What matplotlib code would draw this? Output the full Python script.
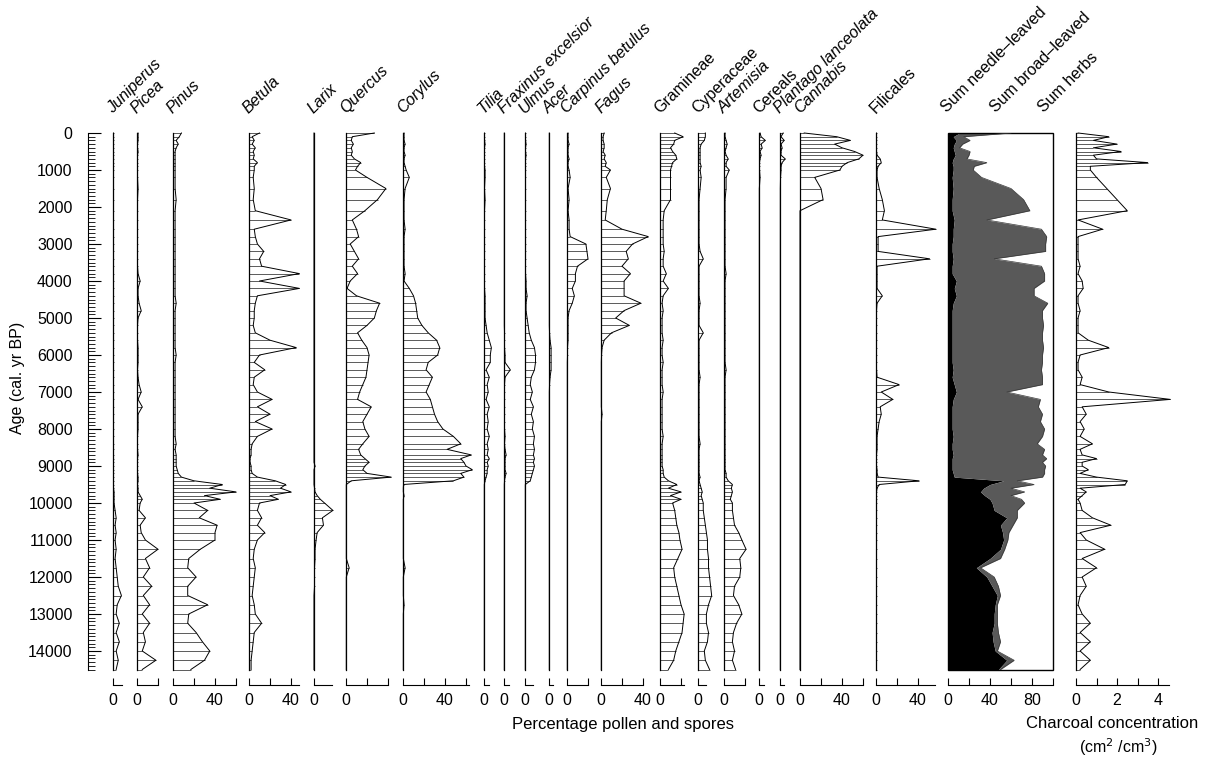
import numpy as np
import matplotlib.pyplot as plt
from matplotlib.ticker import MultipleLocator

plt.rcParams.update({'font.family': ['Liberation Sans', 'DejaVu Sans'], 'font.size': 11.5})

W, H, DPI = 1207, 760, 100
TOP_PX, BOT_PX = 133, 669.5   # pixel rows of age 0 and age 14500
PCT_PX = 1.05                 # pixels per percent
AXIS_OFFSET = 11              # points between data and x axes

# sample ages (cal. yr BP)
ages = [0, 100, 200, 300, 400, 500, 600, 700, 800, 900,
        1000, 1200, 1500, 1800, 2100, 2350, 2600, 2800, 3000, 3200,
        3400, 3600, 3800, 4000, 4200, 4400, 4600, 4800, 5000, 5200,
        5400, 5600, 5800, 6000, 6200, 6400, 6600, 6800, 7000, 7200,
        7400, 7600, 7800, 8000, 8200, 8400, 8550, 8700, 8800, 8900,
        9000, 9100, 9200, 9300, 9400, 9500, 9600, 9700, 9800, 9900,
        10000, 10200, 10400, 10600, 10800, 11000, 11250, 11500, 11750, 12000,
        12250, 12500, 12750, 13000, 13250, 13500, 13750, 14000, 14250, 14500]

# percentages, one row per 10 samples
juniperus = [0.5, 0.5, 0.5, 0.5, 0.5, 0.5, 0.5, 0.5, 0.5, 0.5,
             0.5, 0.5, 0.5, 0.5, 0.5, 0.5, 0.5, 0.5, 0.5, 0.5,
             0.5, 0.5, 0.5, 0.5, 0.5, 0.5, 0.5, 0.5, 0.5, 0.5,
             0.5, 0.5, 0.5, 0.5, 0.5, 0.5, 0.5, 0.5, 0.5, 0.5,
             0.5, 0.5, 0.5, 0.5, 0.5, 0.5, 0.5, 0.5, 0.5, 0.5,
             0.5, 0.5, 0.5, 0.5, 0.5, 0.5, 0.5, 1, 1, 1,
             1, 2, 3, 2, 3, 2, 3, 2, 3, 4,
             5, 8, 4, 3, 6, 3, 6, 3, 5, 3]
picea = [1, 1, 1, 0.5, 0.5, 1, 0.5, 0.5, 0.5, 0.5,
         0.5, 0.5, 1, 0.5, 0.5, 0.5, 0.5, 0.5, 0.5, 0.5,
         0.5, 0.5, 1, 3, 1, 1, 2, 4, 1, 0.5,
         0.5, 0.5, 1, 1, 1, 0.5, 1, 2, 4, 1,
         5, 1, 1, 1, 0.5, 0.5, 0.5, 1, 0.5, 0.5,
         0.5, 0.5, 0.5, 1, 1, 0.5, 1, 1, 3, 5,
         3, 2, 8, 3, 4, 8, 20, 8, 12, 6,
         14, 6, 12, 5, 12, 6, 8, 5, 18, 5]
pinus = [8, 6, 3, 5, 3, 2, 2, 2, 2, 2,
         2, 2, 2, 3, 2, 2, 2, 2, 2, 2,
         2, 2, 2, 2, 2, 2, 3, 2, 2, 2,
         2, 2, 2, 3, 2, 2, 2, 2, 2, 2,
         2, 2, 2, 2, 2, 3, 2, 3, 3, 3,
         3, 4, 5, 8, 20, 47, 35, 60, 30, 45,
         20, 33, 25, 42, 40, 40, 26, 15, 14, 22,
         14, 14, 33, 15, 14, 22, 28, 35, 30, 17]
betula = [10, 3, 5, 3, 6, 4, 5, 4, 8, 5,
          5, 4, 5, 4, 6, 40, 5, 6, 8, 14,
          10, 12, 48, 10, 48, 8, 6, 5, 5, 4,
          6, 20, 45, 10, 5, 15, 5, 4, 8, 22,
          8, 20, 6, 22, 8, 3, 2, 2, 1, 1,
          2, 2, 3, 8, 25, 35, 30, 40, 20, 28,
          10, 8, 12, 8, 15, 8, 5, 4, 6, 5,
          4, 3, 5, 6, 12, 5, 4, 3, 2, 2]
larix = [0, 0, 0, 0, 0, 0, 0, 0, 0, 0,
         0, 0, 0, 0, 0, 0, 0, 0, 0, 0,
         0, 0, 0, 0, 0, 0, 0, 0, 0, 0,
         0, 0, 0, 0, 0, 0, 0, 0, 0, 0,
         0, 0, 0, 0, 0, 0, 0, 0, 0, 0,
         1, 0, 0, 0, 0, 0, 0.5, 1, 3, 6,
         10, 18, 8, 9, 3, 2, 1, 1, 0.5, 0.5,
         0.5, 0, 0, 0, 0, 0, 0, 0, 0, 0]
quercus = [27, 6, 5, 7, 5, 6, 5, 8, 14, 11,
           9, 20, 38, 30, 18, 6, 10, 12, 4, 8,
           12, 6, 11, 4, 1, 10, 32, 29, 27, 20,
           11, 15, 20, 22, 21, 20, 19, 16, 13, 11,
           24, 20, 16, 18, 22, 16, 12, 14, 18, 22,
           18, 16, 20, 43, 5, 0.3, 0.3, 0.3, 0.3, 0.3,
           0.3, 0.3, 0.3, 0.3, 0.3, 0.3, 0.3, 0.3, 3, 0.3,
           0.3, 0.3, 0.3, 0.3, 0.3, 0.3, 0.3, 0.3, 0.3, 0.3]
corylus = [1, 1, 1, 2, 1, 1, 2, 1, 1, 2,
           3, 6, 2, 1, 1, 1, 2, 1, 1, 1,
           1, 1, 2, 1, 6, 10, 12, 13, 14, 18,
           24, 32, 35, 33, 24, 22, 28, 25, 22, 26,
           28, 30, 33, 38, 48, 55, 42, 65, 55, 58,
           60, 66, 55, 58, 48, 0.5, 0.3, 0.3, 1, 0.3,
           0.3, 0.3, 0.3, 0.3, 0.3, 0.3, 0.3, 0.3, 2, 0.3,
           0.3, 0.3, 1, 0.3, 0.3, 0.3, 0.3, 0.3, 0.3, 0.3]
tilia = [0.5, 0.5, 0.5, 1, 0.5, 0.5, 0.5, 0.5, 0.5, 0.5,
         1, 1, 0.5, 1, 0.5, 0.5, 0.5, 0.5, 0.5, 0.5,
         0.5, 0.5, 0.5, 0.5, 0.5, 1, 1, 1, 1, 2,
         3, 5, 7, 6, 6, 2, 5, 3, 4, 2,
         5, 3, 4, 3, 5, 3, 4, 3, 5, 3,
         4, 3, 3, 2, 1, 0.3, 0.3, 0.3, 0.3, 0.3,
         0.3, 0.3, 0.3, 0.3, 0.3, 0.3, 0.3, 0.3, 0.3, 0.3,
         0.3, 0.3, 0.3, 0.3, 0.3, 0.3, 0.3, 0.3, 0.3, 0.3]
fraxinus = [0.3, 0.3, 0.3, 0.3, 0.3, 0.3, 0.3, 0.3, 0.3, 0.3,
            0.3, 0.3, 0.3, 0.3, 0.3, 0.3, 0.3, 0.3, 0.3, 0.3,
            0.3, 0.3, 0.3, 0.3, 0.3, 0.3, 0.3, 0.3, 0.3, 0.3,
            0.5, 0.5, 0.5, 1, 1, 6, 1, 0.5, 0.5, 0.5,
            0.5, 0.5, 0.5, 0.5, 1, 0.5, 1, 2, 1, 1,
            1, 1, 2, 1, 0.5, 0.3, 0.3, 0.3, 0.3, 0.3,
            0.3, 0.3, 0.3, 0.3, 0.3, 0.3, 0.3, 0.3, 0.3, 0.3,
            0.3, 0.3, 0.3, 0.3, 0.3, 0.3, 0.3, 0.3, 0.3, 0.3]
ulmus = [0.5, 0.5, 0.5, 1, 0.5, 0.5, 1, 0.5, 0.5, 0.5,
         0.5, 0.5, 0.5, 0.5, 0.5, 0.5, 0.5, 0.5, 0.5, 0.5,
         0.5, 0.5, 0.5, 1, 1, 2, 1, 1, 2, 3,
         4, 6, 9, 10, 10, 9, 6, 5, 7, 5,
         8, 6, 8, 7, 9, 8, 9, 8, 9, 8,
         9, 8, 7, 6, 5, 0.3, 0.3, 0.3, 0.3, 0.3,
         0.3, 0.3, 0.3, 0.3, 0.3, 0.3, 0.3, 0.3, 0.3, 0.3,
         0.3, 0.3, 0.3, 0.3, 0.3, 0.3, 0.3, 0.3, 0.3, 0.3]
acer = [0.3, 0.3, 0.3, 0.3, 0.3, 0.3, 0.3, 0.3, 0.3, 0.3,
        0.3, 0.3, 0.3, 0.3, 0.3, 0.3, 0.3, 0.3, 0.3, 0.3,
        0.3, 0.3, 0.3, 0.3, 0.3, 0.3, 0.3, 0.3, 0.3, 0.3,
        0.5, 1, 2, 2, 2, 2, 1, 0.5, 0.3, 0.3,
        0.3, 0.3, 0.3, 0.3, 0.3, 0.3, 0.3, 0.3, 0.3, 0.3,
        0.3, 0.3, 0.3, 0.3, 0.3, 0.3, 0.3, 0.3, 0.3, 0.3,
        0.3, 0.3, 0.3, 0.3, 0.3, 0.3, 0.3, 0.3, 0.3, 0.3,
        0.3, 0.3, 0.3, 0.3, 0.3, 0.3, 0.3, 0.3, 0.3, 0.3]
carpinus = [1, 1, 1, 2, 1, 1, 1, 2, 1, 1,
            2, 3, 1, 2, 1, 2, 2, 3, 18, 19,
            20, 10, 8, 8, 5, 7, 5, 2, 1, 1,
            1, 1, 0.5, 0.5, 0.3, 0.3, 0.3, 0.3, 0.3, 0.3,
            0.3, 0.3, 0.3, 0.3, 0.3, 0.3, 0.3, 0.3, 0.3, 0.3,
            0.3, 0.3, 0.3, 0.3, 0.3, 0.3, 0.3, 0.3, 0.3, 0.3,
            0.3, 0.3, 0.3, 0.3, 0.3, 0.3, 0.3, 0.3, 0.3, 0.3,
            0.3, 0.3, 0.3, 0.3, 0.3, 0.3, 0.3, 0.3, 0.3, 0.3]
fagus = [3, 2, 2, 3, 3, 2, 4, 3, 5, 4,
         9, 5, 9, 6, 5, 4, 20, 45, 30, 24,
         26, 20, 28, 22, 22, 22, 38, 22, 14, 27,
         10, 3, 1, 0.5, 0.3, 0.3, 0.3, 0.3, 0.3, 0.3,
         0.3, 1, 0.3, 0.3, 0.3, 0.3, 0.3, 0.3, 0.3, 0.3,
         0.3, 0.3, 0.3, 0.3, 0.3, 0.3, 0.3, 0.3, 0.3, 0.3,
         0.3, 0.3, 0.3, 0.3, 0.3, 0.3, 0.3, 0.3, 0.3, 0.3,
         0.3, 0.3, 0.3, 0.3, 0.3, 0.3, 0.3, 0.3, 0.3, 0.3]
gramineae = [14, 22, 14, 13, 10, 12, 15, 16, 12, 11,
             10, 10, 10, 10, 4, 3, 3, 3, 3, 4,
             3, 3, 6, 3, 8, 3, 2, 3, 2, 2,
             2, 3, 2, 2, 3, 2, 2, 2, 3, 2,
             2, 2, 2, 2, 3, 2, 2, 2, 2, 2,
             2, 3, 3, 4, 8, 16, 8, 20, 10, 20,
             12, 14, 15, 16, 18, 19, 21, 17, 13, 14,
             16, 18, 20, 23, 22, 21, 18, 15, 13, 8]
cyperaceae = [7, 7, 6, 3, 2, 2, 2, 2, 2, 3,
              2, 3, 2, 1, 1, 1, 1, 1, 1, 2,
              5, 1, 1, 1, 1, 1, 2, 1, 1, 1,
              5, 1, 1, 1, 1, 1, 2, 1, 1, 1,
              1, 1, 1, 1, 1, 2, 1, 1, 1, 1,
              1, 1, 1, 2, 1, 2, 3, 4, 3, 4,
              5, 5, 6, 7, 8, 9, 9, 10, 10, 11,
              12, 13, 10, 8, 8, 10, 9, 6, 7, 11]
artemisia = [1, 1, 2, 3, 2, 1, 2, 4, 2, 2,
             5, 2, 2, 1, 1, 1, 1, 1, 1, 1,
             1, 1, 2, 1, 1, 1, 1, 1, 1, 1,
             1, 1, 1, 1, 1, 2, 1, 1, 1, 1,
             1, 1, 1, 1, 1, 1, 1, 1, 1, 1,
             1, 1, 2, 2, 4, 8, 7, 8, 7, 6,
             8, 8, 9, 10, 14, 17, 21, 15, 16, 15,
             10, 9, 14, 17, 12, 9, 8, 10, 8, 11]
cereals = [1, 2, 6, 2, 3, 1, 2, 1, 0.5, 0.5,
           0.5, 1, 0.3, 0.3, 0.3, 0.3, 0.3, 0.3, 0.3, 0.3,
           0.3, 0.3, 0.3, 0.3, 0.3, 0.3, 0.3, 0.3, 0.3, 0.3,
           0.3, 0.3, 0.3, 0.3, 0.3, 0.3, 0.3, 0.3, 0.3, 0.3,
           0.3, 0.3, 0.3, 0.3, 0.3, 0.3, 0.3, 0.3, 0.3, 0.3,
           0.3, 0.3, 0.3, 0.3, 0.3, 0.3, 0.3, 0.3, 0.3, 0.3,
           0.3, 0.3, 0.3, 0.3, 0.3, 0.3, 0.3, 0.3, 0.3, 0.3,
           0.3, 0.3, 0.3, 0.3, 0.3, 0.3, 0.3, 0.3, 0.3, 0.3]
plantago = [3, 1, 4, 1, 2, 1, 1, 5, 2, 1,
            1, 0.5, 0.3, 0.3, 0.3, 0.3, 0.3, 0.3, 0.3, 0.3,
            0.3, 0.3, 0.3, 0.3, 0.3, 0.3, 0.3, 0.3, 0.3, 0.3,
            0.3, 0.3, 0.3, 0.3, 0.3, 0.3, 0.3, 0.3, 0.3, 0.3,
            0.3, 0.3, 0.3, 0.3, 0.3, 0.3, 0.3, 0.3, 0.3, 0.3,
            0.3, 0.3, 0.3, 0.3, 0.3, 0.3, 0.3, 0.3, 0.3, 0.3,
            0.3, 0.3, 0.3, 0.3, 0.3, 0.3, 0.3, 0.3, 0.3, 0.3,
            0.3, 0.3, 0.3, 0.3, 0.3, 0.3, 0.3, 0.3, 0.3, 0.3]
cannabis = [4, 35, 48, 33, 40, 52, 60, 56, 45, 40,
            38, 14, 20, 22, 0, 0, 0, 0, 0, 0,
            0, 0, 0, 0, 0, 0, 0, 0, 0, 0,
            0, 0, 0, 0, 0, 0, 0, 0, 0, 0,
            0, 0, 0, 0, 0, 0, 0, 0, 0, 0,
            0, 0, 0, 0, 0, 0, 0, 0, 0, 0,
            0, 0, 0, 0, 0, 0, 0, 0, 0, 0,
            0, 0, 0, 0, 0, 0, 0, 0, 0, 0]
filicales = [0.5, 0.5, 0.5, 0.5, 0.5, 0.5, 1, 4, 5, 2,
             1, 1, 3, 6, 8, 6, 57, 2, 2, 2,
             51, 1, 1, 1, 1, 6, 1, 0.5, 0.5, 0.5,
             0.5, 0.5, 0.5, 0.5, 0.5, 0.5, 1, 22, 5, 16,
             4, 5, 3, 2, 1, 1, 1, 0.5, 0.5, 0.5,
             0.5, 1, 1, 2, 41, 3, 1, 0.5, 0.5, 0.5,
             0.5, 0.5, 0.5, 0.5, 0.5, 0.5, 0.5, 0.5, 0.5, 0.5,
             0.5, 0.5, 0.5, 0.5, 0.5, 0.5, 0.5, 0.5, 0.5, 0.5]

# summary diagram (percent); herbs fill the rest up to 100
sum_needle = [11, 5, 8, 6, 5, 6, 7, 5, 4, 5,
              5, 4, 5, 4, 4, 6, 5, 5, 4, 4,
              5, 4, 4, 8, 6, 8, 5, 4, 4, 4,
              4, 4, 4, 4, 4, 5, 4, 6, 8, 5,
              4, 4, 4, 4, 5, 4, 4, 5, 4, 4,
              4, 4, 5, 6, 53, 40, 34, 31, 35, 40,
              42, 44, 56, 50, 52, 53, 50, 40, 27, 37,
              42, 47, 45, 44, 44, 42, 43, 45, 56, 48]
sum_broad = [49, 10, 13, 8, 6, 15, 13, 13, 33, 20,
             19, 28, 55, 68, 74, 31, 84, 89, 89, 89,
             39, 85, 88, 84, 76, 74, 90, 86, 86, 87,
             86, 86, 87, 86, 86, 84, 86, 84, 48, 83,
             82, 86, 84, 88, 85, 81, 88, 85, 90, 86,
             89, 88, 87, 84, 13, 42, 26, 42, 25, 30,
             31, 22, 10, 12, 6, 4, 4, 10, 4, 7,
             6, 3, 2, 3, 3, 6, 7, 2, 7, 2]

# charcoal concentration (cm2/cm3)
charcoal = [0.1, 1.6, 0.85, 2.0, 0.85, 2.2, 0.85, 1.0, 3.5, 0.7,
            0.7, 1.0, 1.5, 2.0, 2.5, 0.1, 1.3, 0.1, 0.1, 0.1,
            0.1, 0.2, 0.1, 0.3, 0.35, 0.1, 0.1, 0.2, 0.1, 0.1,
            0.1, 0.6, 1.6, 0.2, 0.1, 0.1, 0.3, 0.2, 1.6, 4.6,
            0.3, 0.5, 0.2, 0.4, 0.2, 0.8, 0.2, 0.3, 1.0, 0.3,
            0.3, 0.6, 0.2, 1.0, 2.5, 2.4, 0.2, 0.5, 0.3, 0.1,
            0.2, 0.3, 0.8, 1.7, 0.2, 0.5, 1.4, 0.3, 1.0, 0.3,
            0.5, 0.2, 0.1, 0.3, 0.7, 0.2, 0.7, 0.2, 0.7, 0.2]

age_ticks = [0, 1000, 2000, 3000, 4000, 5000, 6000, 7000,
             8000, 9000, 10000, 11000, 12000, 13000, 14000]

# name, values, zero line (px), axis max, ticks, labelled ticks, italic
panels = [
    ("Juniperus", juniperus, 113, 9, [0], [0], True),
    ("Picea", picea, 137, 20, [0, 20], [0], True),
    ("Pinus", pinus, 173, 60, [0, 20, 40, 60], [0, 40], True),
    ("Betula", betula, 249, 48, [0, 20, 40], [0, 40], True),
    ("Larix", larix, 314, 17, [0], [0], True),
    ("Quercus", quercus, 346, 40, [0, 20, 40], [0], True),
    ("Corylus", corylus, 403, 63, [0, 20, 40, 60], [0, 40], True),
    ("Tilia", tilia, 484, 5, [0], [0], True),
    ("Fraxinus excelsior", fraxinus, 504, 5, [0], [0], True),
    ("Ulmus", ulmus, 525, 8, [0], [0], True),
    ("Acer", acer, 549, 4, [0], [0], True),
    ("Carpinus betulus", carpinus, 567, 20, [0, 20], [0], True),
    ("Fagus", fagus, 601, 40, [0, 20, 40], [0, 40], True),
    ("Gramineae", gramineae, 660, 23, [0, 20], [0], False),
    ("Cyperaceae", cyperaceae, 698, 8, [0], [0], False),
    ("Artemisia", artemisia, 724, 20, [0, 20], [0], True),
    ("Cereals", cereals, 759, 5, [0], [0], False),
    ("Plantago lanceolata", plantago, 780, 4, [0], [0], True),
    ("Cannabis", cannabis, 800, 60, [0, 20, 40, 60], [0, 40], True),
    ("Filicales", filicales, 876, 56, [0, 20, 40], [0, 40], False),
]

fig = plt.figure(figsize=(W / DPI, H / DPI), dpi=DPI)
ages_a = np.array(ages)


def make_axes(x0_px, width_px):
    ax = fig.add_axes([x0_px / W, 1 - BOT_PX / H, width_px / W, (BOT_PX - TOP_PX) / H])
    ax.set_ylim(14500, 0)
    ax.patch.set_visible(False)
    return ax


def style_x(ax, xmax, ticks, labelled):
    for side in ('top', 'right', 'left'):
        ax.spines[side].set_visible(False)
    ax.spines['bottom'].set_position(('outward', AXIS_OFFSET))
    ax.spines['bottom'].set_bounds(0, xmax)
    ax.spines['bottom'].set_linewidth(0.8)
    ax.set_xlim(0, xmax)
    ax.set_xticks(ticks)
    ax.set_xticklabels([str(t) if t in labelled else '' for t in ticks])
    ax.tick_params(axis='x', direction='in', length=5, width=0.8, pad=6, labelsize=11.5)
    ax.set_yticks([])


def draw_curve(ax, vals):
    vals = np.asarray(vals, dtype=float)
    ax.hlines(ages_a, 0, vals, colors='black', lw=0.45, clip_on=False)
    ax.plot(vals, ages_a, color='black', lw=0.7, clip_on=False)
    ax.plot([0, 0], [0, 14500], color='black', lw=0.9, clip_on=False)


def add_name(x_px, y_px, name, italic):
    fig.text(x_px / W, 1 - y_px / H, name, rotation=45, rotation_mode='anchor',
             ha='left', va='bottom', fontsize=11.5,
             style='italic' if italic else 'normal')


for name, vals, x0, xmax, ticks, labelled, italic in panels:
    ax = make_axes(x0, xmax * PCT_PX)
    draw_curve(ax, vals)
    style_x(ax, xmax, ticks, labelled)
    add_name(x0 + 2, 116, name, italic)

# summary panel
ax = make_axes(948, 100 * PCT_PX)
needle = np.array(sum_needle, dtype=float)
trees = needle + np.array(sum_broad, dtype=float)
ax.fill_betweenx(ages_a, 0, needle, color='black', lw=0)
ax.fill_betweenx(ages_a, needle, trees, color='#595959', lw=0)
ax.plot(trees, ages_a, color='#3a3a3a', lw=0.5)
ax.add_patch(plt.Rectangle((0, 0), 1, 1, transform=ax.transAxes, fill=False,
                           lw=1.0, color='black', clip_on=False))
style_x(ax, 100, [0, 20, 40, 60, 80, 100], [0, 40, 80])
add_name(949, 115, "Sum needle\u2013leaved", False)
add_name(998, 115, "Sum broad\u2013leaved", False)
add_name(1046, 115, "Sum herbs", False)

# charcoal panel
CHAR_PX = 20.5
ax = make_axes(1076, 4.55 * CHAR_PX)
draw_curve(ax, charcoal)
style_x(ax, 4.55, [0, 1, 2, 3, 4], [0, 2, 4])

# age axis
ax_age = make_axes(88, 1)
for side in ('top', 'right', 'bottom'):
    ax_age.spines[side].set_visible(False)
ax_age.spines['left'].set_linewidth(0.8)
ax_age.set_xticks([])
ax_age.set_yticks(age_ticks)
ax_age.set_yticklabels([str(t) for t in age_ticks])
ax_age.yaxis.set_minor_locator(MultipleLocator(100))
ax_age.tick_params(axis='y', which='major', direction='in', length=9, width=0.8,
                   pad=11, labelsize=11.5)
ax_age.tick_params(axis='y', which='minor', direction='in', length=5, width=0.6)
fig.text(18 / W, 1 - 378 / H, "Age (cal. yr BP)", rotation=90, ha='center',
         va='center', fontsize=11.5)

fig.text(623 / W, 1 - 724 / H, "Percentage pollen and spores", ha='center',
         va='center', fontsize=12)
fig.text(1112 / W, 1 - 724 / H, "Charcoal concentration", ha='center',
         va='center', fontsize=12)
fig.text(1118 / W, 1 - 747 / H, "(cm$^2$ /cm$^3$)", ha='center', va='center',
         fontsize=11.5)

fig.savefig("out.png", dpi=DPI)
